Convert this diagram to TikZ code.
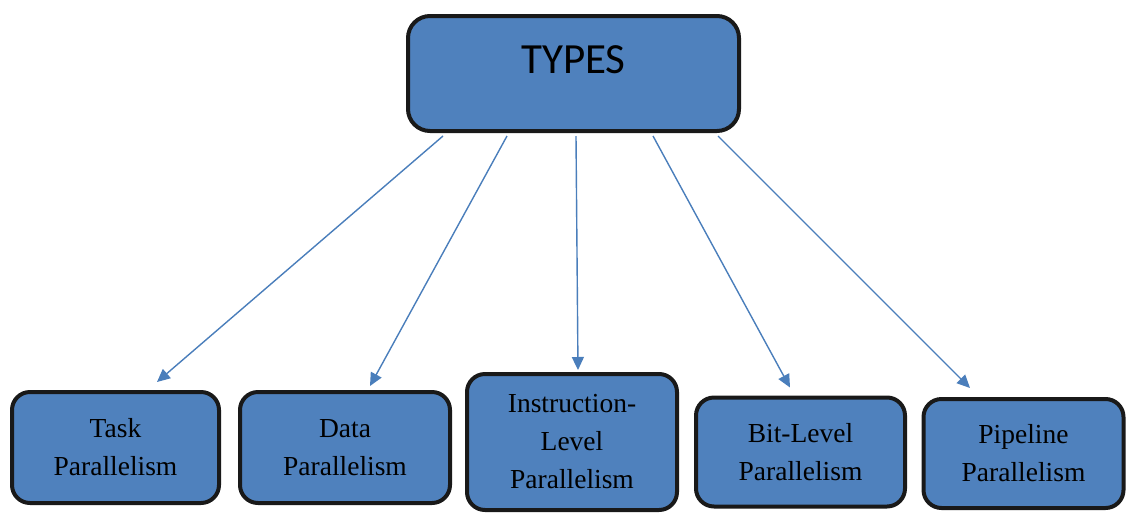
\documentclass[tikz,border=0pt]{standalone}
\usepackage{fontspec}
\setmainfont{Liberation Serif}
\newfontfamily\boxserif{Liberation Serif}
\newfontfamily\carlito{Carlito}
\usetikzlibrary{arrows.meta}
\definecolor{boxblue}{HTML}{4F81BD}
\definecolor{arrblue}{HTML}{4A7EBB}
\tikzset{
  box/.style={draw=black!90, line width=4pt, fill=boxblue, rounded corners=18pt,
    inner sep=0pt, align=center, font=\boxserif\fontsize{27.5}{38}\selectfont},
  arr/.style={draw=arrblue, line width=1.4pt, -{Triangle[length=13pt,width=12pt]}}
}
\begin{document}
\begin{tikzpicture}[x=1pt,y=-1pt]
\useasboundingbox (0,0) rectangle (1127,515);
\node[box, rounded corners=22pt, minimum width=331pt, minimum height=115pt] (types) at (573.5,73.5) {};
\node[font=\carlito\fontsize{43}{50}\selectfont] (typeslabel) at (573.5,60) {TYPES};
\node[box, minimum width=207pt, minimum height=111pt] (task) at (115.5,447.5) {Task\\Parallelism};
\node[box, minimum width=210pt, minimum height=111pt] (data) at (345,447.5) {Data\\Parallelism};
\node[box, minimum width=210pt, minimum height=136pt] (instr) at (572,442) {Instruction-\\Level\\Parallelism};
\node[box, minimum width=209pt, minimum height=109pt] (bit) at (800.5,452) {Bit-Level\\Parallelism};
\node[box, minimum width=200pt, minimum height=109pt] (pipe) at (1023.5,453.5) {Pipeline\\Parallelism};
\draw[arr] ([xshift=-130.5pt,yshift=-3pt]types.south) -- ([xshift=41.5pt,yshift=8pt]task.north);
\draw[arr] ([xshift=-66.5pt,yshift=-3pt]types.south) -- ([xshift=25pt,yshift=4pt]data.north);
\draw[arr] ([xshift=2.5pt,yshift=-3pt]types.south) -- ([xshift=6pt,yshift=2pt]instr.north);
\draw[arr] ([xshift=79.5pt,yshift=-3pt]types.south) -- ([xshift=-10.5pt,yshift=8pt]bit.north);
\draw[arr] ([xshift=144.5pt,yshift=-3pt]types.south) -- ([xshift=-53.5pt,yshift=9pt]pipe.north);
\end{tikzpicture}
\end{document}
